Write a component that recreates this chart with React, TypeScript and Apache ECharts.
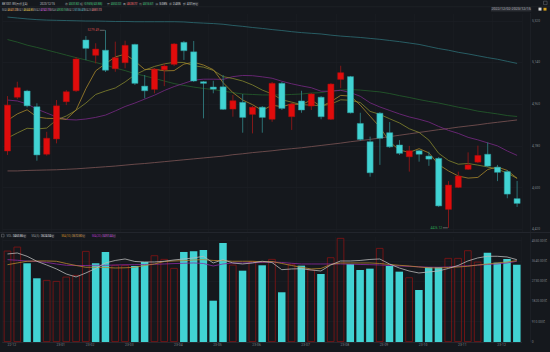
import React, { useEffect, useRef } from 'react';
import * as echarts from 'echarts';

const categories = [
  '2022-12-02','2022-12-09','2022-12-16','2022-12-23','2022-12-30',
  '2023-01-06','2023-01-13','2023-01-20',
  '2023-02-03','2023-02-10','2023-02-17','2023-02-24',
  '2023-03-03','2023-03-10','2023-03-17','2023-03-24','2023-03-31',
  '2023-04-07','2023-04-14','2023-04-21','2023-04-28',
  '2023-05-05','2023-05-12','2023-05-19','2023-05-26',
  '2023-06-02','2023-06-09','2023-06-16','2023-06-21','2023-06-30',
  '2023-07-07','2023-07-14','2023-07-21','2023-07-28',
  '2023-08-04','2023-08-11','2023-08-18','2023-08-25',
  '2023-09-01','2023-09-08','2023-09-15','2023-09-22','2023-09-28',
  '2023-10-13','2023-10-20','2023-10-27',
  '2023-11-03','2023-11-10','2023-11-17','2023-11-24',
  '2023-12-01','2023-12-08','2023-12-15'
];

const opens = [4758,4990,5017,4949,4744,4810,4971,5018,5237,5171,5193,5113,5139,5218,5038,5024,5108,5132,5227,5186,5057,5034,5035,4939,4968,4916,4947,4895,5050,4906,4974,4952,4990,4895,5067,5079,4877,4798,4921,4837,4784,4733,4759,4736,4726,4506,4601,4679,4710,4744,4688,4669,4552.32];
const closes = [4956,5031,4953,4741,4813,4953,5014,5155,5201,5198,5107,5161,5214,5050,5018,5111,5125,5220,5191,5060,5050,5025,4938,4975,4903,4947,4903,5050,4942,4961,4935,5004,4906,5047,5096,4923,4808,4664,4813,4776,4748,4759,4744,4723,4521,4611,4650,4698,4739,4693,4666,4572,4531.82];
const lows = [4741,4982,4946,4716,4738,4791,4956,5013,5150,5136,5099,5100,5115,5043,4985,5007,5038,5125,5151,5056,4899,5007,4935,4906,4837,4834,4837,4884,4935,4849,4923,4935,4895,4892,5029,4920,4801,4647,4698,4771,4741,4669,4712,4694,4516,4426.12,4598,4676,4706,4689,4628,4554,4516.67];
const highs = [4995,5057,5022,4964,4841,4978,5021,5163,5254,5223,5279.49,5230,5234,5221,5086,5116,5136,5224,5233,5233,5060,5061,5086,5000,5004,4952,4952,5056,5056,4965,5018,5008,4995,5051,5126,5082,4923,4820,4926,4883,4805,4780,4762,4755,4732,4628,4669,4752,4781,4795,4698,4676,4628.77];

const volumes = [4094,4273,3529,2856,2780,2735,2928,3004,4081,3529,4036,3453,3453,3408,3587,3886,3722,3318,4036,4067,4126,1852,4439,3466,3197,3619,3439,3722,2229,3500,3422,3243,3049,3797,4664,3498,3229,3288,4215,3408,3153,2900,2332,3363,3363,3767,3767,4110,3600,4006,3556,3722,3463.86];

const ma5 = [4890,4918,4936,4905,4899,4898,4895,4935,5027,5104,5135,5164,5176,5146,5110,5111,5104,5105,5133,5141,5129,5109,5053,5010,4978,4958,4933,4956,4949,4961,4958,4978,4950,4971,4998,4995,4956,4908,4861,4797,4762,4752,4768,4750,4699,4672,4650,4641,4644,4678,4689,4674,4640];
const ma10 = [4814,4836,4856,4853,4857,4892,4909,4934,4965,5002,5017,5030,5056,5087,5107,5123,5134,5141,5140,5126,5120,5106,5079,5071,5060,5043,5021,5004,4979,4969,4958,4956,4953,4960,4979,4977,4967,4929,4916,4897,4879,4854,4838,4805,4748,4717,4701,4704,4697,4689,4680,4662,4640];
const ma20 = [4978,4974,4961,4939,4922,4905,4894,4892,4896,4903,4913,4931,4950,4965,4982,4999,5019,5036,5050,5064,5068,5068,5067,5079,5084,5083,5078,5072,5059,5048,5039,5031,5016,5016,5020,5010,4994,4966,4948,4933,4918,4905,4895,4883,4864,4847,4834,4817,4806,4793,4780,4758,4739];
const ma60 = [5239,5228,5215,5205,5194,5183,5172,5161,5151,5140,5129,5116,5105,5092,5082,5071,5060,5049,5041,5034,5028,5023,5017,5010,5004,5002,5000,5000,5000,5002,5004,5008,5010,5017,5021,5023,5021,5017,5013,5006,4997,4989,4980,4972,4965,4956,4947,4939,4930,4924,4918,4911,4907];
const ma120 = [5336,5332,5328,5325,5323,5322,5321,5320,5319,5319,5318,5317,5317,5316,5316,5316,5316,5316,5315,5312,5310,5308,5305,5300,5296,5291,5287,5282,5278,5273,5269,5266,5263,5258,5254,5251,5248,5244,5240,5235,5230,5224,5218,5209,5200,5193,5184,5177,5169,5161,5154,5145,5136];
const ma250 = [4672,4672,4674,4675,4676,4677,4679,4681,4684,4687,4690,4693,4697,4701,4704,4708,4712,4716,4720,4724,4728,4732,4736,4742,4746,4751,4755,4759,4764,4768,4772,4777,4782,4787,4792,4798,4803,4808,4814,4820,4826,4832,4838,4844,4850,4855,4861,4866,4871,4877,4882,4887,4892];

const volMa5 = [3946,3991,3843,3619,3453,3274,3049,2915,3094,3296,3543,3655,3722,3610,3587,3587,3619,3677,3722,3767,3843,3543,3691,3543,3498,3543,3619,3565,3242,3274,3287,3229,3184,3453,3632,3632,3655,3700,3722,3498,3318,3184,3094,3139,3184,3296,3430,3632,3767,3843,3843,3812,3691];
const volMa10 = [3466,3543,3619,3632,3632,3619,3520,3430,3350,3350,3341,3318,3327,3350,3430,3498,3610,3632,3646,3677,3691,3655,3646,3619,3619,3619,3596,3610,3520,3430,3350,3274,3296,3475,3543,3543,3543,3543,3520,3475,3439,3408,3363,3327,3318,3341,3363,3395,3453,3498,3543,3587,3646];
const volMa20 = [3691,3664,3632,3610,3565,3498,3439,3430,3430,3439,3439,3453,3462,3466,3475,3484,3498,3516,3529,3543,3520,3408,3498,3543,3543,3552,3565,3587,3565,3529,3498,3498,3498,3498,3498,3489,3475,3466,3453,3430,3408,3390,3372,3354,3350,3363,3395,3417,3444,3475,3498,3543,3619];

const priceTicks = [4420, 4600, 4780, 4960, 5140, 5320];
const volTicks = [0, 910, 1820, 2730, 3640, 4550];
const monthTickIndex = [0, 5, 8, 12, 17, 21, 25, 30, 34, 38, 42, 46, 50];
const monthTickLabels = ['22-12','23-01','23-02','23-03','23-04','23-05','23-06','23-07','23-08','23-09','23-10','23-11','23-12'];

const FONT = "Roboto, 'Noto Sans CJK SC', sans-serif";
const BG = '#15181d';
const RED = '#e00c0c';
const CYAN = '#41d3d3';

function txt(x: number, y: number, text: string, fill: string, size = 2.8, bg?: string) {
  return {
    type: 'text', x, y, silent: true,
    style: {
      text, fill, fontSize: size, fontFamily: FONT, verticalAlign: 'middle', align: 'left',
      backgroundColor: bg, padding: bg ? [0.3, 0.5] : 0,
    },
  };
}

export default function App() {
  const ref = useRef<HTMLDivElement>(null);
  useEffect(() => {
    const chart = echarts.init(ref.current!, null, { renderer: 'svg' });
    const candleData = categories.map((_, i) => [i, opens[i], closes[i], lows[i], highs[i]]);
    const maxHigh = Math.max(...highs);
    const maxIdx = highs.indexOf(maxHigh);
    const minLow = Math.min(...lows);
    const minIdx = lows.indexOf(minLow);
    const volData = volumes.map((v, i) => {
      const up = i === 0 ? closes[0] >= opens[0] : closes[i] >= closes[i - 1];
      return {
        value: v,
        itemStyle: up
          ? { color: 'rgba(0,0,0,0)', borderColor: '#861414', borderWidth: 0.8 }
          : { color: CYAN, borderWidth: 0 },
      };
    });
    const lineS = (name: string, data: number[], color: string, xi: number, yi: number) => ({
      name, type: 'line', xAxisIndex: xi, yAxisIndex: yi, data, showSymbol: false, symbol: 'none',
      lineStyle: { color, width: 0.8 }, z: 3, silent: true,
    });
    const grayLbl = '#8d9096';
    const valBg = '#2a2d33';
    const option: any = {
      animation: false,
      backgroundColor: BG,
      grid: [
        { left: 2.6, right: 28, top: 14, height: 218 },
        { left: 2.6, right: 28, top: 237, height: 105 },
      ],
      xAxis: [
        {
          type: 'category', gridIndex: 0, data: categories, boundaryGap: true,
          axisLine: { show: false }, axisTick: { show: false }, axisLabel: { show: false },
          splitLine: { show: true, interval: (i: number) => monthTickIndex.includes(i), lineStyle: { color: '#1b1e23', width: 0.6 } },
        },
        {
          type: 'category', gridIndex: 1, data: categories, boundaryGap: true,
          axisLine: { show: true, lineStyle: { color: '#2a2d33', width: 0.8 } }, axisTick: { show: false },
          axisLabel: {
            show: true, interval: (i: number) => monthTickIndex.includes(i),
            formatter: (_v: string, i: number) => monthTickLabels[monthTickIndex.indexOf(i)] || '',
            color: '#7c8087', fontSize: 3.4, fontFamily: FONT, margin: 1.6, align: 'left',
          },
          splitLine: { show: true, interval: (i: number) => monthTickIndex.includes(i), lineStyle: { color: '#1b1e23', width: 0.6 } },
        },
      ],
      yAxis: [
        {
          type: 'value', gridIndex: 0, position: 'right', min: 4408.4, max: 5349.3, scale: true,
          axisLine: { show: false },
          axisTick: { show: false, customValues: priceTicks },
          axisLabel: { customValues: priceTicks, color: '#7c8087', fontSize: 3.3, fontFamily: FONT, margin: 10 },
          splitLine: { show: true, lineStyle: { color: '#1d2026', width: 0.6 } },
        },
        {
          type: 'value', gridIndex: 1, position: 'right', min: 0, max: 4707,
          axisLine: { show: false },
          axisTick: { show: false, customValues: volTicks },
          axisLabel: {
            customValues: volTicks, color: '#7c8087', fontSize: 3.3, fontFamily: FONT, margin: 10,
            formatter: (v: number) => (v === 0 ? '0' : v.toFixed(2) + '亿'),
          },
          splitLine: { show: true, lineStyle: { color: '#1d2026', width: 0.6 } },
        },
      ],
      series: [
        lineS('MA250', ma250, '#7e5656', 0, 0),
        lineS('MA120', ma120, '#2d6f76', 0, 0),
        lineS('MA60', ma60, '#255f2c', 0, 0),
        lineS('MA20', ma20, '#7a2a86', 0, 0),
        lineS('MA10', ma10, '#85872e', 0, 0),
        lineS('MA5', ma5, '#a8882c', 0, 0),
        {
          name: 'K', type: 'custom', xAxisIndex: 0, yAxisIndex: 0, data: candleData, z: 5,
          encode: { x: 0, y: [1, 2, 3, 4] },
          renderItem: (_p: any, api: any) => {
            const idx = api.value(0);
            const o = api.value(1), c = api.value(2), l = api.value(3), h = api.value(4);
            const pO = api.coord([idx, o]);
            const pC = api.coord([idx, c]);
            const pL = api.coord([idx, l]);
            const pH = api.coord([idx, h]);
            const w = api.size([1, 0])[0] * 0.62;
            const up = c >= o;
            const x = pO[0];
            const top = Math.min(pO[1], pC[1]);
            const bh = Math.max(Math.abs(pO[1] - pC[1]), 0.9);
            return {
              type: 'group',
              children: [
                { type: 'line', shape: { x1: x, y1: pH[1], x2: x, y2: pL[1] }, style: { stroke: up ? '#8e1818' : '#2f7a7e', lineWidth: 0.9 } },
                { type: 'rect', shape: { x: x - w / 2, y: top, width: w, height: bh }, style: { fill: up ? RED : CYAN, stroke: up ? '#a81010' : '#2f9a9e', lineWidth: 0.5 } },
              ],
            };
          },
          markPoint: {
            symbol: 'rect', symbolSize: [5, 0.6], symbolOffset: [-3.2, 0], silent: true,
            itemStyle: { color: '#9a9a9a' },
            label: { show: true, position: 'left', distance: 0.8, fontSize: 3.2, fontFamily: FONT },
            data: [
              { coord: [categories[maxIdx], maxHigh], value: maxHigh, label: { color: '#d04a4a', formatter: maxHigh.toFixed(2) } },
              { coord: [categories[minIdx], minLow], value: minLow, label: { color: '#2aa452', formatter: minLow.toFixed(2) } },
            ],
          },
        },
        {
          name: 'VOL', type: 'bar', xAxisIndex: 1, yAxisIndex: 1, data: volData, barWidth: 7.5, z: 2, silent: true,
        },
        lineS('VMA20', volMa20, '#8e2aa2', 1, 1),
        lineS('VMA10', volMa10, '#b8862e', 1, 1),
        lineS('VMA5', volMa5, '#b9b9b9', 1, 1),
      ],
      graphic: [
        { type: 'line', shape: { x1: 0, y1: 6.8, x2: 550, y2: 6.8 }, style: { stroke: '#24272d', lineWidth: 0.6 }, silent: true },
        { type: 'line', shape: { x1: 0, y1: 232.5, x2: 550, y2: 232.5 }, style: { stroke: '#262a30', lineWidth: 0.8 }, silent: true },
        { type: 'line', shape: { x1: 530.5, y1: 13, x2: 530.5, y2: 342 }, style: { stroke: '#22252b', lineWidth: 0.6 }, silent: true },
        txt(2, 3.6, '881001.WI(万得全A)', '#c4c6ca'),
        txt(40, 3.6, '2023/12/15', '#c4c6ca'),
        txt(65, 3.6, '收', grayLbl), txt(68.5, 3.6, '4531.82', '#22b45c', 2.8, valBg),
        txt(80, 3.6, '幅', grayLbl), txt(83.5, 3.6, '-0.96%(-43.88)', '#22b45c', 2.8, valBg),
        txt(107, 3.6, '开', grayLbl), txt(110.5, 3.6, '4552.32', '#22b45c', 2.8, valBg),
        txt(123, 3.6, '高', grayLbl), txt(126.5, 3.6, '4628.77', '#e04848', 2.8, valBg),
        txt(139, 3.6, '低', grayLbl), txt(142.5, 3.6, '4516.67', '#22b45c', 2.8, valBg),
        txt(155.5, 3.6, '换', grayLbl), txt(159, 3.6, '5.08%', '#c4c6ca', 2.8, valBg),
        txt(169, 3.6, '振', grayLbl), txt(172.5, 3.6, '2.45%', '#c4c6ca', 2.8, valBg),
        txt(183, 3.6, '额', grayLbl), txt(186.5, 3.6, '4.01万亿', '#c4c6ca', 2.8, valBg),
        txt(2, 9.4, 'MA5', grayLbl), txt(7, 9.4, '4641.20', '#e09a2e', 2.8, valBg),
        txt(17, 9.4, 'MA10', grayLbl), txt(23, 9.4, '4644.85', '#d6b43a', 2.8, valBg),
        txt(34, 9.4, 'MA20', grayLbl), txt(40, 9.4, '4742.75', '#cc48d0', 2.8, valBg),
        txt(50.5, 9.4, 'MA60', grayLbl), txt(56.5, 9.4, '4930.16', '#2fb45a', 2.8, valBg),
        txt(67, 9.4, 'MA120', grayLbl), txt(74, 9.4, '5136.41', '#3aa6b4', 2.8, valBg),
        txt(84, 9.4, 'MA250', grayLbl), txt(91, 9.4, '4881.73', '#d06a6a', 2.8, valBg),
        txt(491, 9.4, '2022/12/02-2023/12/15', '#aeb1b6', 3.6, valBg),
        { type: 'rect', shape: { x: 538.5, y: 7.6, width: 3, height: 3 }, style: { fill: '#d8d8d8' }, silent: true },
        { type: 'rect', shape: { x: 543.5, y: 7.8, width: 3, height: 2.8 }, style: { fill: '#d9a21c' }, silent: true },
        { type: 'rect', shape: { x: 543.5, y: 1.2, width: 3.6, height: 3.4 }, style: { fill: 'none', stroke: '#6b6e74', lineWidth: 0.5 }, silent: true },
        { type: 'rect', shape: { x: 1.5, y: 234.2, width: 2.6, height: 2.8 }, style: { fill: 'none', stroke: '#8d9096', lineWidth: 0.4 }, silent: true },
        txt(6.5, 235.6, 'VOL:', grayLbl), txt(12.5, 235.6, '3463.86亿', '#d2d4d8', 2.8, valBg),
        txt(31.5, 235.6, 'MA(5):', grayLbl), txt(40.5, 235.6, '3624.04亿', '#d2d4d8', 2.8, valBg),
        txt(61.5, 235.6, 'MA(10):', '#c88a2a'), txt(71.5, 235.6, '3672.80亿', '#c88a2a', 2.8, valBg),
        txt(92, 235.6, 'MA(20):', '#b035c0'), txt(102, 235.6, '3497.44亿', '#b035c0', 2.8, valBg),
      ],
    };
    chart.setOption(option);
    return () => chart.dispose();
  }, []);
  return <div ref={ref} style={{ position: 'fixed', left: 0, top: 0, width: 550, height: 352 }} />;
}
